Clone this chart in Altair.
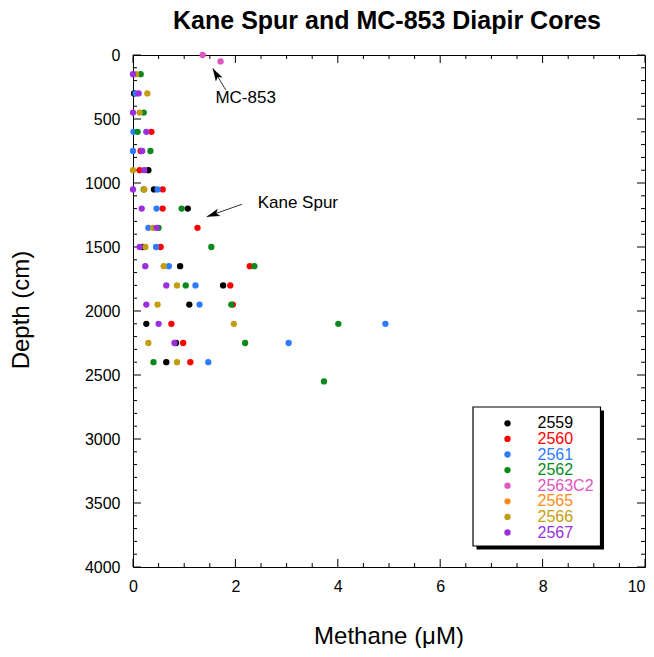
import altair as alt
import pandas as pd

FONT = "Liberation Sans"
W = 512
H = 512

cores = ["2559", "2560", "2561", "2562", "2563C2", "2565", "2566", "2567"]
core_colors = ["#000000", "#ff0000", "#2f7bff", "#0a8a1c", "#e055c0", "#ff8c1a", "#c29d0e", "#9b2fe0"]

depth_2559 = [300, 900, 1050, 1200, 1500, 1650, 1800, 1950, 2100, 2250, 2400]
methane_2559 = [0.02, 0.30, 0.41, 1.07, 0.19, 0.92, 1.76, 1.10, 0.26, 0.84, 0.65]

depth_2560 = [600, 750, 900, 1050, 1200, 1350, 1500, 1650, 1800, 1950, 2100, 2250, 2400]
methane_2560 = [0.36, 0.15, 0.13, 0.58, 0.58, 1.26, 0.54, 2.28, 1.90, 1.95, 0.75, 0.98, 1.12]

depth_2561 = [300, 600, 750, 1050, 1200, 1350, 1500, 1650, 1800, 1950, 2100, 2250, 2400]
methane_2561 = [0.05, 0.01, 0.00, 0.48, 0.46, 0.30, 0.45, 0.70, 1.22, 1.30, 4.93, 3.04, 1.47]

depth_2562 = [150, 450, 600, 750, 1050, 1200, 1350, 1500, 1650, 1800, 1950, 2100, 2250, 2400, 2550]
methane_2562 = [0.15, 0.21, 0.09, 0.34, 0.21, 0.95, 0.50, 1.53, 2.37, 1.03, 1.92, 4.01, 2.19, 0.40, 3.73]

depth_2563C2 = [0, 50]
methane_2563C2 = [1.36, 1.71]

depth_2565 = []
methane_2565 = []

depth_2566 = [150, 300, 450, 900, 1050, 1350, 1500, 1650, 1800, 1950, 2100, 2250, 2400]
methane_2566 = [0.06, 0.28, 0.13, 0.00, 0.22, 0.39, 0.24, 0.60, 0.86, 0.48, 1.97, 0.30, 0.86]

depth_2567 = [150, 300, 450, 600, 750, 900, 1050, 1200, 1350, 1500, 1650, 1800, 1950, 2100, 2250]
methane_2567 = [0.00, 0.11, 0.00, 0.26, 0.18, 0.22, 0.00, 0.17, 0.46, 0.13, 0.24, 0.65, 0.26, 0.50, 0.81]

x_major = [0, 2, 4, 6, 8, 10]
x_minor = [v / 2 for v in range(0, 21) if v % 4 != 0]
y_major = [0, 500, 1000, 1500, 2000, 2500, 3000, 3500, 4000]
y_minor = [v for v in range(0, 4001, 100) if v % 500 != 0]

series = {
    "2559": (depth_2559, methane_2559),
    "2560": (depth_2560, methane_2560),
    "2561": (depth_2561, methane_2561),
    "2562": (depth_2562, methane_2562),
    "2563C2": (depth_2563C2, methane_2563C2),
    "2565": (depth_2565, methane_2565),
    "2566": (depth_2566, methane_2566),
    "2567": (depth_2567, methane_2567),
}
rows = []
for core in cores:
    d, m = series[core]
    for dd, mm in zip(d, m):
        rows.append({"core": core, "depth": dd, "methane": mm})
df = pd.DataFrame(rows)

xs = alt.Scale(domain=[0, 10], nice=False, zero=False)
ys = alt.Scale(domain=[0, 4000], reverse=True, nice=False, zero=False)
cs = alt.Scale(domain=cores, range=core_colors)

points = alt.Chart(df).mark_circle(size=40, opacity=1).encode(
    x=alt.X("methane:Q", scale=xs, axis=alt.Axis(
        values=x_major, format="d", ticks=False, tickSize=0, domain=False, grid=False,
        labelFont=FONT, labelFontSize=16, labelColor="black", labelPadding=11,
        labelAlign={"condition": {"test": "datum.value == 10", "value": "right"}, "value": "center"},
        labelFlush=False, labelOverlap=False, title=None)),
    y=alt.Y("depth:Q", scale=ys, axis=alt.Axis(
        values=y_major, format="d", ticks=False, tickSize=0, domain=False, grid=False,
        labelFont=FONT, labelFontSize=16, labelColor="black", labelPadding=13,
        labelFlush=False, labelOverlap=False, title=None)),
    color=alt.Color("core:N", scale=cs, legend=None),
)


def xticks(vals, length, top):
    y0 = 0 if top else H
    y1 = length if top else H - length
    return alt.Chart(pd.DataFrame({"v": vals})).mark_rule(color="black", strokeWidth=1).encode(
        x=alt.X("v:Q", scale=xs, axis=None), y=alt.value(y0), y2=alt.value(y1))


def yticks(vals, length, right):
    x0 = W if right else 0
    x1 = W - length if right else length
    return alt.Chart(pd.DataFrame({"v": vals})).mark_rule(color="black", strokeWidth=1).encode(
        y=alt.Y("v:Q", scale=ys, axis=None), x=alt.value(x0), x2=alt.value(x1))


ticks = [
    xticks(x_major, 8, False), xticks(x_minor, 4, False),
    xticks(x_major, 8, True), xticks(x_minor, 4, True),
    yticks(y_major, 8, False), yticks(y_minor, 4, False),
    yticks(y_major, 8, True), yticks(y_minor, 4, True),
]

# annotations (data coordinates)
ann_text = pd.DataFrame({"label": ["MC-853", "Kane Spur"], "x": [2.20, 3.22], "d": [336, 1156]})
ann_line = pd.DataFrame({"x": [1.81, 2.13], "d": [273, 1166], "x2": [1.56, 1.44], "d2": [104, 1263]})
ann_head = pd.DataFrame({"x": [1.62, 1.56], "d": [148, 1246], "ang": [329.6, 250.7]})

a_text = alt.Chart(ann_text).mark_text(font=FONT, fontSize=17, align="center", baseline="middle", color="black").encode(
    x=alt.X("x:Q", scale=xs, axis=None), y=alt.Y("d:Q", scale=ys, axis=None), text="label:N")
a_line = alt.Chart(ann_line).mark_rule(color="#333333", strokeWidth=1).encode(
    x=alt.X("x:Q", scale=xs, axis=None), y=alt.Y("d:Q", scale=ys, axis=None), x2="x2:Q", y2="d2:Q")
a_head = alt.Chart(ann_head).mark_point(
    shape="M0,-1L0.6,1L0,0.55L-0.6,1Z", filled=True, color="black", opacity=1, size=170).encode(
    x=alt.X("x:Q", scale=xs, axis=None), y=alt.Y("d:Q", scale=ys, axis=None), angle=alt.Angle("ang:Q", scale=None))

# legend box
one = pd.DataFrame({"a": [0]})
shadow = alt.Chart(one).mark_rect(color="black").encode(
    x=alt.value(343.5), x2=alt.value(471), y=alt.value(355.5), y2=alt.value(494.5))
box = alt.Chart(one).mark_rect(fill="white", stroke="black", strokeWidth=1.2).encode(
    x=alt.value(340), x2=alt.value(467.5), y=alt.value(352), y2=alt.value(491))

leg = pd.DataFrame({"core": cores, "i": list(range(len(cores)))})
leg_base = alt.Chart(leg).transform_calculate(ypx="368.3 + datum.i * 15.6")
leg_dots = leg_base.mark_circle(size=40, opacity=1).encode(
    x=alt.value(374.5), y=alt.Y("ypx:Q", scale=None, axis=None),
    color=alt.Color("core:N", scale=cs, legend=None))
leg_text = leg_base.mark_text(font=FONT, fontSize=16, align="left", baseline="middle").encode(
    x=alt.value(404.5), y=alt.Y("ypx:Q", scale=None, axis=None), text="core:N",
    color=alt.Color("core:N", scale=cs, legend=None))

# titles
title = alt.Chart(one).mark_text(text="Kane Spur and MC-853 Diapir Cores", font=FONT, fontSize=25,
                                 fontWeight="bold", align="center", baseline="alphabetic", color="black").encode(
    x=alt.value(254), y=alt.value(-26))
xtitle = alt.Chart(one).mark_text(text="Methane (μM)", font=FONT, fontSize=24,
                                  align="center", baseline="alphabetic", color="black").encode(
    x=alt.value(256), y=alt.value(589))
ytitle = alt.Chart(one).mark_text(text="Depth (cm)", font=FONT, fontSize=24, angle=270,
                                  align="center", baseline="middle", color="black").encode(
    x=alt.value(-111), y=alt.value(255))

chart = alt.layer(
    *ticks, points, a_line, a_head, a_text, shadow, box, leg_dots, leg_text, title, xtitle, ytitle
).resolve_scale(x="independent", y="independent").properties(
    width=W, height=H,
    autosize=alt.AutoSizeParams(type="none"),
    padding={"left": 125, "top": 47, "right": 1, "bottom": 81},
).configure_view(stroke="black", strokeWidth=1)

chart.save("out.html", embed_options={"renderer": "svg", "actions": False})
